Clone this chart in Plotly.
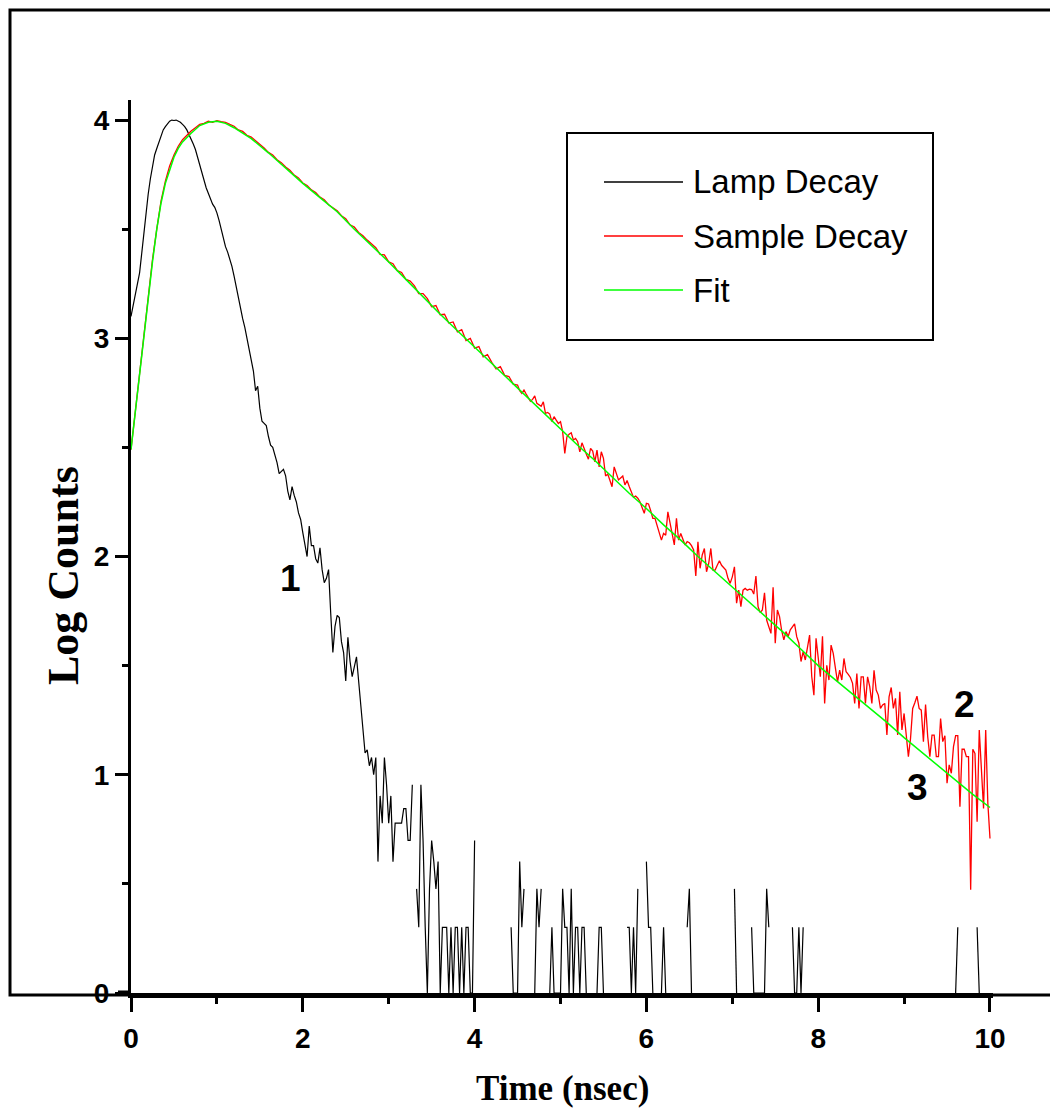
import numpy as np
import plotly.graph_objects as go

# ---- data ----
# lamp decay, 0.025 ns channels. first part as log counts (0 - 2.725 ns)
lamp_log = [
    3.10, 3.15, 3.20, 3.25, 3.30, 3.39, 3.49, 3.58, 3.66, 3.73,
    3.79, 3.84, 3.87, 3.90, 3.93, 3.955, 3.97, 3.985, 3.995, 4.0,
    3.998, 4.0, 3.995, 3.99, 3.98, 3.97, 3.955, 3.935, 3.915, 3.89,
    3.865, 3.83, 3.79, 3.76, 3.725, 3.69, 3.665, 3.64, 3.615, 3.60,
    3.575, 3.54, 3.495, 3.455, 3.42, 3.395, 3.365, 3.33, 3.285, 3.235,
    3.18, 3.13, 3.09, 3.05, 3.00, 2.96, 2.91, 2.85, 2.76, 2.78,
    2.68, 2.62, 2.61, 2.60, 2.55, 2.51, 2.50, 2.47, 2.43, 2.38,
    2.39, 2.40, 2.37, 2.30, 2.26, 2.32, 2.28, 2.25, 2.20, 2.17,
    2.11, 2.06, 2.00, 2.14, 2.05, 2.05, 1.99, 1.97, 2.04, 1.94,
    1.88, 1.90, 1.94, 1.74, 1.56, 1.68, 1.73, 1.72, 1.61, 1.56,
    1.43, 1.63, 1.52, 1.45, 1.49, 1.54, 1.43, 1.33, 1.22, 1.10,
]
# tail as raw counts (2.75 - 10 ns); 0 counts -> no point on a log plot
lamp_counts = [
    13, 11, 12, 10, 12, 4, 8, 6, 12, 9,
    6, 8, 4, 6, 6, 6, 6, 7, 7, 5,
    5, 9, 0, 3, 2, 9, 5, 2, 1, 3,
    5, 4, 3, 4, 1, 2, 2, 2, 1, 2,
    1, 2, 2, 1, 2, 1, 2, 2, 1, 1,
    5, 0, 2, 0, 0, 0, 0, 0, 0, 0,
    0, 0, 0, 2, 0, 0, 0, 2, 1, 1,
    1, 4, 2, 3, 0, 0, 0, 0, 1, 3,
    2, 3, 0, 0, 0, 1, 2, 1, 1, 1,
    1, 3, 2, 2, 1, 3, 1, 2, 2, 1,
    2, 2, 1, 0, 0, 0, 0, 1, 2, 2,
    1, 0, 0, 0, 0, 0, 0, 0, 0, 0,
    0, 2, 2, 1, 2, 1, 3, 0, 0, 0,
    4, 2, 2, 1, 0, 0, 0, 1, 2, 1,
    0, 0, 0, 0, 0, 0, 0, 0, 0, 2,
    3, 1, 0, 0, 0, 0, 0, 0, 0, 0,
    0, 0, 0, 0, 0, 0, 0, 0, 0, 0,
    0, 3, 1, 0, 0, 0, 0, 0, 0, 2,
    1, 1, 1, 1, 1, 1, 3, 2, 0, 0,
    0, 0, 0, 0, 0, 0, 0, 0, 2, 1,
    1, 2, 1, 2, 0, 0, 2, 0, 0, 0,
    0, 0, 0, 0, 0, 0, 0, 0, 0, 0,
    0, 0, 0, 0, 0, 0, 0, 0, 0, 0,
    0, 0, 0, 0, 0, 0, 0, 0, 0, 0,
    0, 0, 0, 0, 0, 0, 0, 0, 0, 0,
    0, 0, 0, 0, 0, 0, 0, 0, 0, 0,
    0, 0, 0, 0, 0, 0, 0, 0, 0, 0,
    0, 0, 0, 0, 1, 2, 0, 0, 0, 0,
    0, 0, 0, 0, 2, 1, 0, 0, 0, 0,
    0,
]

# sample decay: 0 - 4.45 ns every 0.05 ns
sample_early = [
    2.49, 2.67, 2.84, 3.02, 3.19, 3.36, 3.50, 3.63, 3.72, 3.79,
    3.84, 3.88, 3.91, 3.93, 3.95, 3.965, 3.98, 3.985, 3.995, 3.99,
    3.997, 3.993, 3.99, 3.98, 3.972, 3.955, 3.948, 3.93, 3.922, 3.905,
    3.89, 3.872, 3.852, 3.84, 3.818, 3.805, 3.785, 3.77, 3.748, 3.735,
    3.712, 3.70, 3.68, 3.668, 3.647, 3.635, 3.612, 3.60, 3.585, 3.562,
    3.548, 3.52, 3.51, 3.485, 3.47, 3.45, 3.432, 3.415, 3.385, 3.382,
    3.35, 3.342, 3.31, 3.302, 3.27, 3.262, 3.24, 3.205, 3.205, 3.182,
    3.145, 3.15, 3.108, 3.11, 3.07, 3.075, 3.03, 3.04, 2.99, 3.0,
    2.955, 2.962, 2.915, 2.925, 2.89, 2.86, 2.87, 2.83, 2.825, 2.79,
]
# sample decay: 4.5 - 10 ns every 0.025 ns
sample_late = [
    2.786, 2.76, 2.748, 2.763, 2.745, 2.73, 2.712, 2.72,
    2.736, 2.702, 2.695, 2.689, 2.709, 2.656, 2.66, 2.653,
    2.618, 2.641, 2.625, 2.61, 2.618, 2.572, 2.473, 2.549,
    2.56, 2.567, 2.534, 2.541, 2.526, 2.48, 2.521, 2.491,
    2.47, 2.446, 2.496, 2.483, 2.434, 2.488, 2.411, 2.48,
    2.45, 2.369, 2.378, 2.35, 2.32, 2.411, 2.38, 2.351,
    2.36, 2.369, 2.328, 2.348, 2.321, 2.30, 2.271, 2.277,
    2.267, 2.251, 2.225, 2.198, 2.244, 2.241, 2.21, 2.175,
    2.175, 2.14, 2.10, 2.075, 2.106, 2.098, 2.205, 2.15,
    2.106, 2.053, 2.175, 2.075, 2.106, 2.08, 2.053, 2.068,
    2.063, 2.05, 2.030, 1.911, 2.068, 1.946, 2.007, 2.037,
    1.930, 1.968, 2.037, 1.938, 1.938, 1.96, 1.981, 1.96,
    1.946, 1.938, 1.90, 1.877, 1.907, 1.953, 1.786, 1.846,
    1.770, 1.846, 1.854, 1.846, 1.85, 1.849, 1.828, 1.911,
    1.770, 1.743, 1.755, 1.834, 1.709, 1.679, 1.648, 1.859,
    1.603, 1.755, 1.725, 1.66, 1.618, 1.656, 1.633, 1.664,
    1.68, 1.691, 1.633, 1.603, 1.519, 1.564, 1.526, 1.58,
    1.640, 1.45, 1.365, 1.625, 1.54, 1.449, 1.635, 1.327,
    1.502, 1.434, 1.594, 1.556, 1.49, 1.426, 1.479, 1.434,
    1.533, 1.472, 1.46, 1.446, 1.419, 1.327, 1.464, 1.304,
    1.449, 1.449, 1.327, 1.449, 1.404, 1.327, 1.479, 1.388,
    1.365, 1.304, 1.32, 1.327, 1.182, 1.357, 1.400, 1.304,
    1.350, 1.182, 1.380, 1.205, 1.281, 1.190, 1.083, 1.167,
    1.304, 1.33, 1.360, 1.304, 1.296, 1.152, 1.322, 1.174,
    1.083, 1.182, 1.182, 1.083, 1.083, 1.258, 1.152, 1.179,
    0.961, 1.045, 1.007, 1.129, 1.179, 1.179, 0.854, 1.117,
    1.117, 1.083, 1.083, 0.473, 1.117, 1.098, 0.785, 1.205,
    1.00, 0.846, 1.205, 0.869, 0.708,
]

fit_t = [0.00, 0.05, 0.10, 0.15, 0.20, 0.25, 0.30, 0.35, 0.40, 0.45,
         0.50, 0.55, 0.60, 0.70, 0.80, 0.90, 1.00, 1.10, 1.20, 1.30,
         1.40, 1.60, 1.80, 2.00, 2.20, 2.40, 2.60, 2.80, 3.00, 3.20,
         3.40, 3.60, 3.80, 4.00, 4.20, 4.40, 4.60, 4.80, 5.00, 5.20,
         5.40, 5.60, 5.80, 6.00, 6.20, 6.40, 6.60, 6.80, 7.00, 7.20,
         7.40, 7.60, 7.80, 8.00, 8.20, 8.40, 8.60, 8.80, 9.00, 9.20,
         9.40, 9.60, 9.80, 10.00]
fit_y = [2.49, 2.66, 2.83, 3.01, 3.19, 3.35, 3.50, 3.62, 3.71, 3.775,
         3.83, 3.87, 3.90, 3.94, 3.975, 3.99, 3.995, 3.985, 3.965, 3.94,
         3.915, 3.85, 3.78, 3.71, 3.645, 3.58, 3.50, 3.425, 3.35, 3.27,
         3.19, 3.11, 3.035, 2.96, 2.885, 2.81, 2.735, 2.66, 2.585, 2.51,
         2.44, 2.365, 2.29, 2.22, 2.145, 2.075, 2.00, 1.93, 1.86, 1.79,
         1.72, 1.65, 1.575, 1.50, 1.435, 1.37, 1.305, 1.24, 1.17, 1.105,
         1.04, 0.975, 0.91, 0.85]

series_names = ["Lamp Decay", "Sample Decay", "Fit"]
series_colors = ["#000000", "#ff0000", "#00ff00"]
series_widths = [1.2, 1.3, 1.5]

curve_labels = ["1", "2", "3"]
curve_label_x = [1.86, 9.70, 9.16]
curve_label_y = [1.90, 1.32, 0.94]

x_ticks = [0, 2, 4, 6, 8, 10]
y_ticks = [0, 1, 2, 3, 4]

# ---- build series ----
lamp_y = lamp_log + [float(np.log10(c)) if c > 0 else None for c in lamp_counts]
lamp_t = np.arange(len(lamp_y)) * 0.025
sample_y = sample_early + sample_late
sample_t = np.concatenate([np.arange(len(sample_early)) * 0.05,
                           4.5 + np.arange(len(sample_late)) * 0.025])

xs = [lamp_t, sample_t, fit_t]
ys = [lamp_y, sample_y, fit_y]

fig = go.Figure()
for x, y, name, col, w in zip(xs, ys, series_names, series_colors, series_widths):
    fig.add_trace(go.Scatter(x=x, y=y, mode="lines", name=name,
                             line=dict(color=col, width=w), showlegend=False))

# page body adds an 8px offset, so margins are pulled in by 8px
W, H = 1058, 1114
OFF = 8
PL, PT, PW, PH = 131, 100, 862, 893  # plot box as seen in the original
L, T = PL - OFF, PT - OFF
R, B = W - L - PW, H - T - PH


def px(x):
    return (x - PL) / PW


def py(y):
    return (PT + PH - y) / PH


sans = "Liberation Sans, Arial, sans-serif"
tick_font = dict(family=sans, size=28, color="black", weight="bold")

fig.update_xaxes(range=[0, 10.035], tickvals=x_ticks, ticks="outside", ticklen=14,
                 tickwidth=3, tickcolor="black", showline=True, linewidth=5,
                 linecolor="black", showgrid=False, zeroline=False,
                 tickfont=tick_font, ticklabelstandoff=2,
                 minor=dict(dtick=1, ticks="outside", ticklen=6, tickwidth=3,
                            tickcolor="black"))
fig.update_yaxes(range=[0, 4.092], tickvals=y_ticks, ticks="outside", ticklen=13,
                 tickwidth=3, tickcolor="black", showline=True, linewidth=3,
                 linecolor="black", showgrid=False, zeroline=False,
                 tickfont=tick_font, ticklabelstandoff=0,
                 minor=dict(dtick=0.5, ticks="outside", ticklen=6, tickwidth=3,
                            tickcolor="black"))

# outer frame and the bit of axis line left of zero
fig.add_shape(type="rect", xref="paper", yref="paper",
              x0=px(10), x1=px(1075), y0=py(995), y1=py(10),
              line=dict(color="black", width=3), layer="below")
fig.add_shape(type="line", xref="paper", yref="paper",
              x0=px(118), x1=0, y0=0, y1=0, line=dict(color="black", width=5))

# legend box drawn by hand (long line samples like the original)
fig.add_shape(type="rect", xref="paper", yref="paper",
              x0=px(567), x1=px(933), y0=py(340), y1=py(133),
              line=dict(color="black", width=2), fillcolor="white")
legend_rows = [182, 236, 290]
for row, name, col in zip(legend_rows, series_names, series_colors):
    fig.add_shape(type="line", xref="paper", yref="paper",
                  x0=px(604), x1=px(683), y0=py(row), y1=py(row),
                  line=dict(color=col, width=1.5))
    fig.add_annotation(xref="paper", yref="paper", x=px(691), y=py(row),
                       text=name, showarrow=False, xanchor="left", yanchor="middle",
                       font=dict(family=sans, size=33, color="black"))

for lx, ly, lab in zip(curve_label_x, curve_label_y, curve_labels):
    fig.add_annotation(x=lx, y=ly, text=lab, showarrow=False,
                       font=dict(family=sans, size=37, color="black", weight="bold"))

title_font = dict(family="Liberation Serif, Times New Roman, serif", color="black",
                  weight="bold")
fig.add_annotation(xref="paper", yref="paper", x=0.5, y=py(1088), text="Time (nsec)",
                   showarrow=False, xanchor="center", yanchor="middle",
                   font=dict(size=35, **title_font))
fig.add_annotation(xref="paper", yref="paper", x=px(63), y=py(576), text="Log Counts",
                   showarrow=False, textangle=-90, xanchor="center", yanchor="middle",
                   font=dict(size=44, **title_font))

fig.update_layout(width=W, height=H, margin=dict(l=L, r=R, t=T, b=B, autoexpand=False),
                  paper_bgcolor="white", plot_bgcolor="white", showlegend=False)

fig.write_html("out.html")
